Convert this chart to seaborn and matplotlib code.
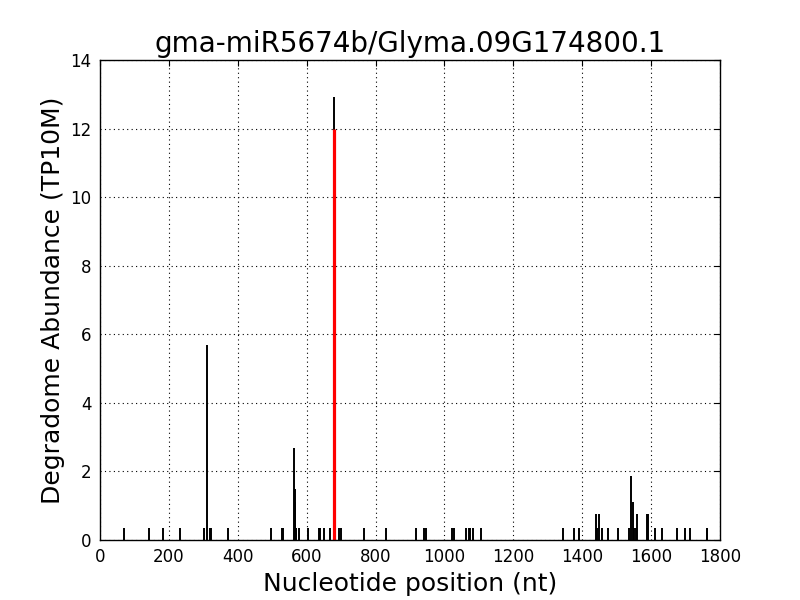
import matplotlib
matplotlib.use("Agg")
import matplotlib.pyplot as plt
import seaborn as sns
import pandas as pd

title = "gma-miR5674b/Glyma.09G174800.1"
positions = [70, 141, 184, 233, 303, 310, 320, 322, 373, 495, 529, 531,
             564, 565, 566, 567, 568, 569, 578, 603, 636, 640, 651, 667,
             680, 694, 700, 766, 829, 918, 940, 946, 1022, 1028, 1063,
             1071, 1075, 1083, 1107, 1345, 1376, 1392, 1439, 1444, 1450,
             1456, 1476, 1505, 1535, 1542, 1546, 1550, 1555, 1560, 1588,
             1590, 1610, 1633, 1675, 1697, 1713, 1761, 1763]
abundance = [0.35, 0.35, 0.35, 0.35, 0.35, 5.7, 0.35, 0.35, 0.35, 0.35, 0.35, 0.35,
             2.67, 1.5, 1.1, 0.75, 0.35, 0.35, 0.35, 0.35, 0.35, 0.35, 0.35, 0.35,
             12.93, 0.35, 0.35, 0.35, 0.35, 0.35, 0.35, 0.35, 0.35, 0.35, 0.35,
             0.35, 0.35, 0.35, 0.35, 0.35, 0.35, 0.35, 0.75, 0.35, 0.75,
             0.35, 0.35, 0.35, 0.35, 1.88, 1.12, 0.35, 0.35, 0.75, 0.75,
             0.75, 0.35, 0.35, 0.35, 0.35, 0.35, 0.35, 0.35]
target_pos = [680]
target_val = [12.0]

df = pd.DataFrame({"pos": positions, "val": abundance})

sns.set_style("white", {"text.color": "black", "axes.labelcolor": "black",
                        "xtick.color": "black", "ytick.color": "black",
                        "axes.edgecolor": "black"})
plt.rcParams['font.family'] = ['DejaVu Sans']

fig = plt.figure(figsize=(8, 6), dpi=100)
ax = fig.add_axes([0.125, 0.1, 0.775, 0.8])

ax.vlines(df["pos"], 0, df["val"], colors="black", linewidth=1.4)
ax.vlines(target_pos, 0, target_val, colors="red", linewidth=2.3)

ax.set_xlim(0, 1800)
ax.set_ylim(0, 14)
ax.set_xticks(range(0, 1801, 200))
ax.set_yticks(range(0, 15, 2))
ax.grid(True, color="black", linestyle=(0, (1, 3)), linewidth=0.8)
ax.set_axisbelow(True)
for s in ax.spines.values():
    s.set_color("black")
    s.set_linewidth(1.0)
ax.tick_params(direction="in", length=4, width=0.8, top=True, right=True,
               labelsize=12, colors="black", pad=6)
ax.set_title(title, fontsize=20, pad=6, color="black")
ax.set_xlabel("Nucleotide position (nt)", fontsize=18, color="black")
ax.set_ylabel("Degradome Abundance (TP10M)", fontsize=18, color="black")

fig.savefig("out.png", dpi=100, facecolor="white")
